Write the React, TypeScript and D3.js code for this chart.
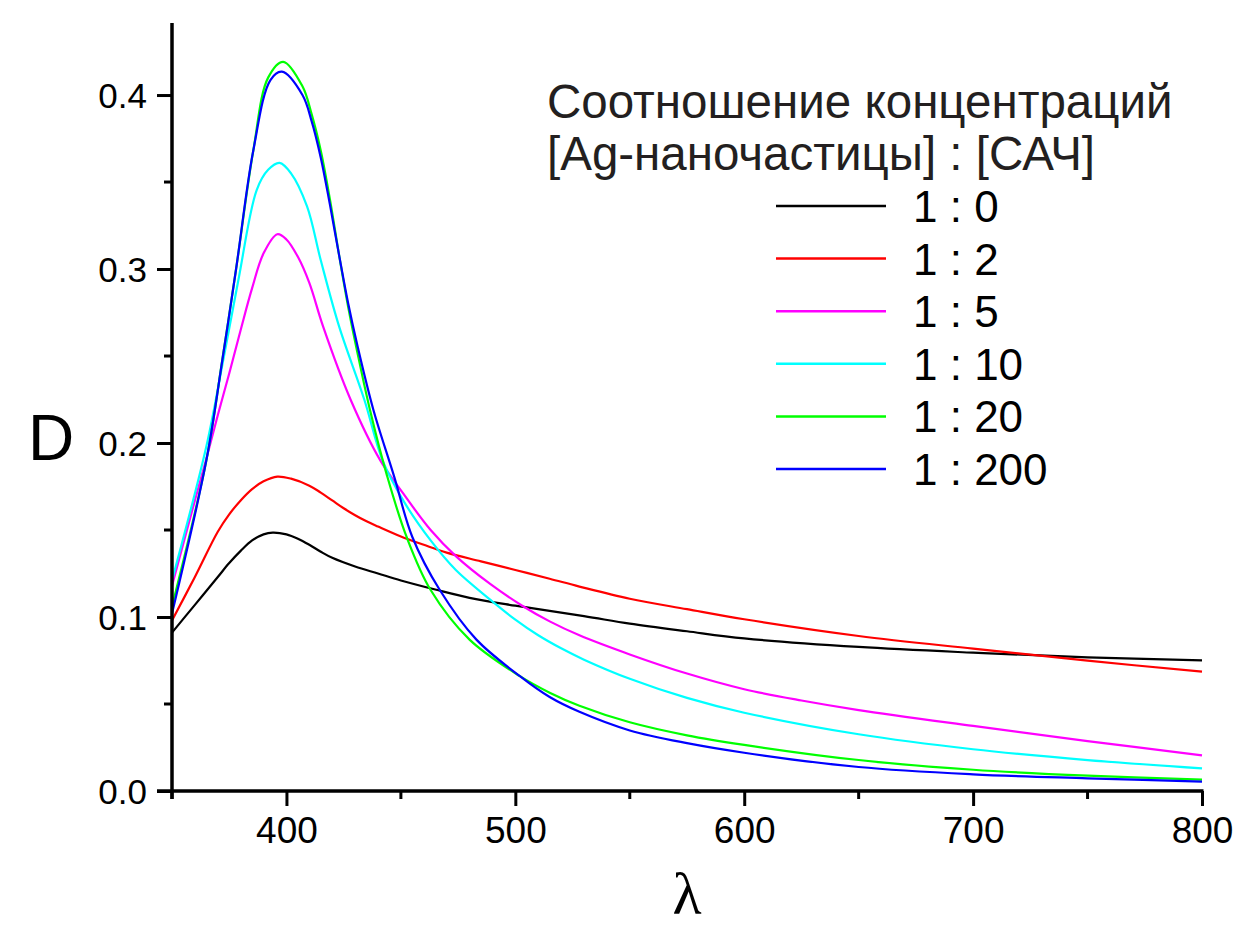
import React, { useEffect, useRef } from 'react';
import * as d3 from 'd3';

// длина волны, нм
const wl0 = [350, 360, 370, 375, 380, 385, 390, 394, 400, 405, 410, 415, 420, 430, 440, 450, 465, 480, 500, 530, 550, 575, 600, 650, 700, 750, 800];
const d0 = [0.091, 0.107, 0.123, 0.131, 0.138, 0.144, 0.1475, 0.1485, 0.1475, 0.145, 0.1415, 0.1375, 0.134, 0.129, 0.125, 0.121, 0.1158, 0.111, 0.1065, 0.1005, 0.0962, 0.0918, 0.0877, 0.0828, 0.0795, 0.0768, 0.0751];

const wl2 = [350, 360, 370, 375, 380, 385, 390, 396, 402, 410, 415, 420, 425, 430, 435, 440, 450, 460, 470, 485, 500, 515, 528, 550, 575, 600, 650, 700, 750, 800];
const d2 = [0.098, 0.123, 0.149, 0.159, 0.167, 0.1735, 0.178, 0.1807, 0.1795, 0.1755, 0.1715, 0.167, 0.1625, 0.1585, 0.155, 0.152, 0.1463, 0.1415, 0.137, 0.132, 0.127, 0.122, 0.1175, 0.1105, 0.1045, 0.0987, 0.0891, 0.0818, 0.0749, 0.0686];

const wl5 = [350, 360, 365, 370, 375, 380, 385, 390, 396, 400, 405, 410, 416, 428, 441, 451, 463, 474, 489, 503, 515, 528, 550, 575, 600, 625, 650, 700, 750, 800];
const d5 = [0.118, 0.167, 0.191, 0.216, 0.240, 0.265, 0.289, 0.309, 0.320, 0.317, 0.307, 0.292, 0.267, 0.225, 0.190, 0.171, 0.150, 0.135, 0.119, 0.1065, 0.0975, 0.0895, 0.0785, 0.0675, 0.0585, 0.052, 0.0465, 0.0374, 0.0287, 0.0205];

const wl10 = [350, 365, 372, 379, 387, 392, 397, 402, 409, 415, 423, 434, 442, 451, 463, 474, 489, 500, 510, 520, 530, 550, 575, 600, 650, 700, 750, 800];
const d10 = [0.121, 0.198, 0.245, 0.2937, 0.3454, 0.357, 0.361, 0.355, 0.336, 0.305, 0.267, 0.225, 0.190, 0.167, 0.144, 0.127, 0.110, 0.0985, 0.0895, 0.082, 0.0755, 0.0645, 0.0535, 0.045, 0.0326, 0.024, 0.0178, 0.013];

const wl20 = [350, 365, 372, 378, 385.5, 392, 398.6, 407, 411, 415, 419, 423, 427, 431, 436.5, 444, 452.5, 463, 480, 502, 515, 528, 550, 575, 600, 650, 700, 750, 800];
const d20 = [0.106, 0.190, 0.248, 0.300, 0.368, 0.410, 0.4191, 0.405, 0.389, 0.368, 0.340, 0.308, 0.278, 0.252, 0.219, 0.181, 0.146, 0.1155, 0.087, 0.066, 0.0565, 0.049, 0.0395, 0.032, 0.0265, 0.0178, 0.0122, 0.0088, 0.0065];

const wl200 = [350, 365, 372, 378, 385.5, 393, 398, 407, 411, 415, 419, 423, 427, 431, 438, 447, 455, 467, 483, 502, 515, 528, 550, 575, 600, 650, 700, 750, 800];
const d200 = [0.102, 0.190, 0.2477, 0.300, 0.368, 0.4086, 0.4134, 0.400, 0.385, 0.364, 0.337, 0.308, 0.280, 0.256, 0.219, 0.181, 0.146, 0.1155, 0.087, 0.066, 0.054, 0.0455, 0.0348, 0.0275, 0.022, 0.0138, 0.0096, 0.0073, 0.0054];

const ratioLabels = ['1 : 0', '1 : 2', '1 : 5', '1 : 10', '1 : 20', '1 : 200'];
const lineColors = ['#000000', '#ff0000', '#ff00ff', '#00ffff', '#00ff00', '#0000ff'];
const xTicks = [400, 500, 600, 700, 800];
const xMinor = [350, 450, 550, 650, 750];
const yTicks = [0, 0.1, 0.2, 0.3, 0.4];
const yMinor = [0.05, 0.15, 0.25, 0.35];

const App = () => {
	const ref = useRef<SVGSVGElement>(null);
	useEffect(() => drawChart());

	function drawChart() {
		const svg = d3.select(ref.current);
		svg.selectAll('*').remove();
		const font = "'Liberation Sans', Arial, sans-serif";
		const ink = '#231f20';

		const x = d3.scaleLinear().domain([350, 800]).range([172, 1202]);
		const y = d3.scaleLinear().domain([0, 0.4414]).range([791, 23]);

		const series = [[wl0, d0], [wl2, d2], [wl5, d5], [wl10, d10], [wl20, d20], [wl200, d200]];
		const line = d3.line<[number, number]>()
			.x((d) => x(d[0]))
			.y((d) => y(d[1]))
			.curve(d3.curveCatmullRom.alpha(0.5));

		series.forEach((s, i) => {
			const pts: [number, number][] = s[0].map((w, j) => [w, s[1][j]]);
			svg.append('path')
				.attr('d', line(pts))
				.attr('fill', 'none')
				.attr('stroke', lineColors[i])
				.attr('stroke-width', 2.2);
		});

		// оси
		const xAxis = d3.axisBottom(x).tickValues(xTicks).tickSize(15).tickSizeOuter(0).tickFormat(d3.format('d'));
		const gx = svg.append('g').attr('transform', 'translate(0,791)').call(xAxis);
		gx.select('.domain').remove();
		gx.selectAll('line').attr('stroke', '#000').attr('stroke-width', 3);
		gx.selectAll('text').attr('font-family', font).attr('font-size', 37).attr('fill', '#000').attr('y', 52).attr('dy', 0);
		svg.append('g').selectAll('line').data(xMinor).enter().append('line')
			.attr('x1', (d) => x(d)).attr('x2', (d) => x(d))
			.attr('y1', 791).attr('y2', 799)
			.attr('stroke', '#000').attr('stroke-width', 3);
		svg.append('line').attr('x1', 157).attr('x2', 1203.5).attr('y1', 791).attr('y2', 791)
			.attr('stroke', '#000').attr('stroke-width', 3.5);

		const yAxis = d3.axisLeft(y).tickValues(yTicks).tickSize(15).tickSizeOuter(0).tickFormat(d3.format('.1f'));
		const gy = svg.append('g').attr('transform', 'translate(172,0)').call(yAxis);
		gy.select('.domain').remove();
		gy.selectAll('line').attr('stroke', '#000').attr('stroke-width', 3);
		gy.selectAll('text').attr('font-family', font).attr('font-size', 35).attr('fill', '#000').attr('x', -25).attr('dy', 12);
		svg.append('g').selectAll('line').data(yMinor).enter().append('line')
			.attr('x1', 164).attr('x2', 172)
			.attr('y1', (d) => y(d)).attr('y2', (d) => y(d))
			.attr('stroke', '#000').attr('stroke-width', 3);
		svg.append('line').attr('x1', 172).attr('x2', 172).attr('y1', 23).attr('y2', 799)
			.attr('stroke', '#000').attr('stroke-width', 3.5);

		// подписи осей
		svg.append('text').text('D').attr('x', 28).attr('y', 460)
			.attr('font-family', font).attr('font-size', 64).attr('fill', '#000');
		svg.append('text').text('λ').attr('x', 687).attr('y', 914).attr('text-anchor', 'middle')
			.attr('font-family', "'Liberation Serif', 'DejaVu Serif', serif").attr('font-size', 60).attr('fill', '#000');

		// легенда
		svg.append('text').text('Соотношение концентраций').attr('x', 547).attr('y', 118)
			.attr('font-family', font).attr('font-size', 47.5).attr('fill', ink);
		svg.append('text').text('[Ag-наночастицы] : [САЧ]').attr('x', 547).attr('y', 170)
			.attr('font-family', font).attr('font-size', 47.5).attr('fill', ink);
		const leg = svg.append('g');
		ratioLabels.forEach((lab, i) => {
			const ly = 206 + i * 52.6;
			leg.append('line').attr('x1', 776).attr('x2', 886).attr('y1', ly).attr('y2', ly)
				.attr('stroke', lineColors[i]).attr('stroke-width', 2.5);
			leg.append('text').text(lab).attr('x', 913).attr('y', ly + 16)
				.attr('font-family', font).attr('font-size', 44).attr('fill', '#000');
		});
	}

	return <svg ref={ref} width={1233} height={929} style={{ position: 'absolute', left: 0, top: 0, background: '#fff' }}></svg>;
};

export default App;
